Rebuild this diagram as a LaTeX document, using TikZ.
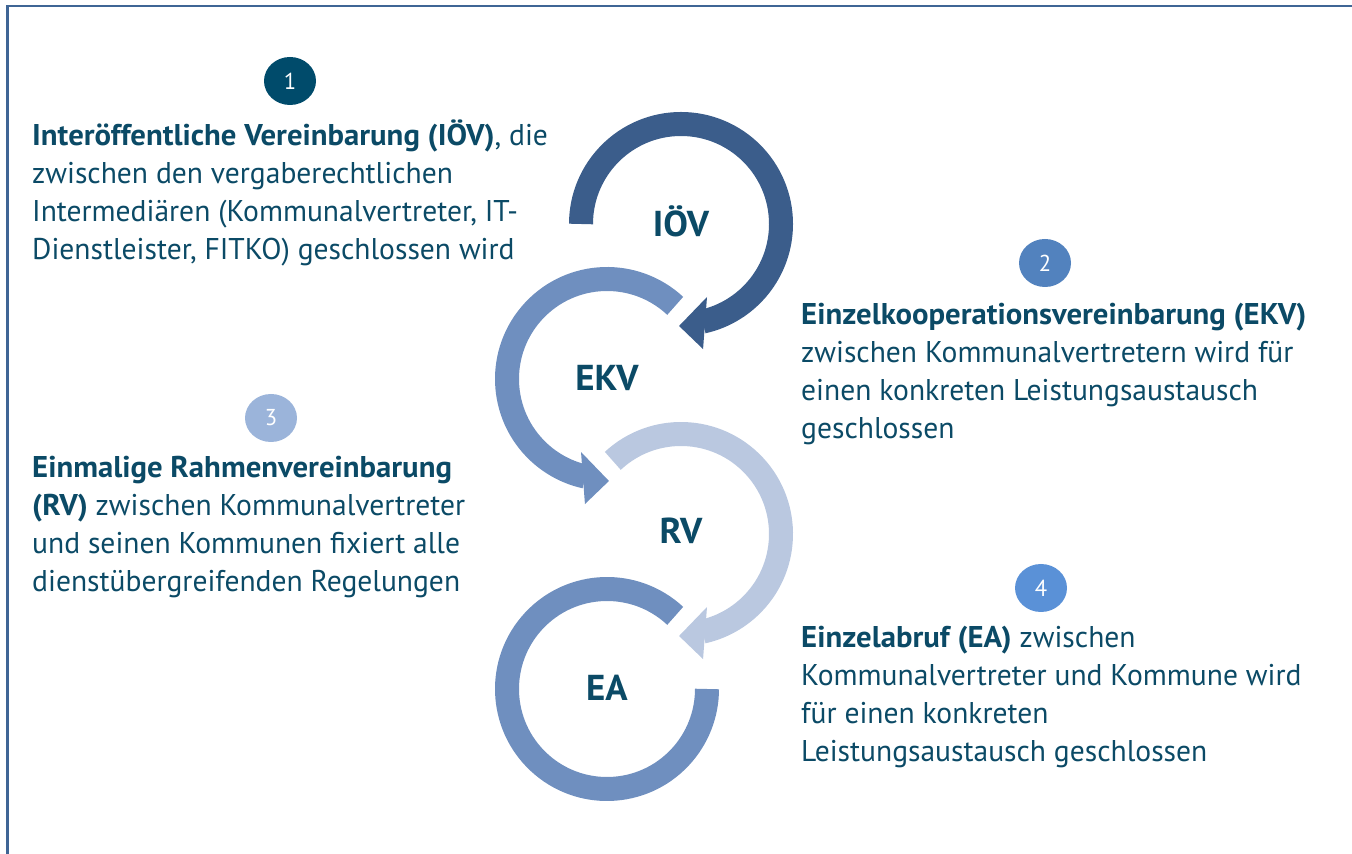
\documentclass[tikz,border=0pt]{standalone}
\usepackage{fontspec}
\setmainfont{PT Sans}[FakeStretch=0.985, BoldFeatures={FakeStretch=1.025}]
\usetikzlibrary{shapes.geometric}
\definecolor{txtc}{HTML}{0B4A66}
\definecolor{cdark}{HTML}{3B5D8B}
\definecolor{cmid}{HTML}{6F8FBF}
\definecolor{clight}{HTML}{BAC8E0}
\definecolor{framec}{HTML}{3F6595}
\definecolor{bone}{HTML}{004B6B}
\definecolor{btwo}{HTML}{5282BE}
\definecolor{bthree}{HTML}{9BB4DA}
\definecolor{bfour}{HTML}{5A91D7}
\tikzset{
  blocktext/.style={anchor=west, align=left, inner sep=0pt, text=txtc, font=\fontsize{30}{38}\selectfont},
  cyclelabel/.style={text=txtc, inner sep=0pt, font=\fontsize{36}{40}\selectfont\bfseries},
  badge/.style={ellipse, minimum width=52pt, minimum height=48pt, inner sep=0pt, text=white, font=\fontsize{23}{25}\selectfont},
  ring/.style={line width=24pt},
}
\begin{document}
\begin{tikzpicture}[x=1pt,y=1pt]
\useasboundingbox (0,0) rectangle (1352,854);
\clip (0,0) rectangle (1352,854);
\draw[framec, line width=2.5pt] (7.5,-20) -- (7.5,848) -- (1380,848);

% IOEV ring
\begin{scope}[shift={(681,630)}]
  \draw[ring, cdark] (180:100) arc[start angle=180, end angle=-77.5, radius=100];
  \fill[cdark] (-70.4:77.5) -- (-91.1:102) -- (-80:127) -- cycle;
\end{scope}
% EKV ring
\begin{scope}[shift={(607,475)}]
  \draw[ring, cmid] (47:100) arc[start angle=47, end angle=257.5, radius=100];
  \fill[cmid] (250.4:77.5) -- (271.1:102) -- (260:127) -- cycle;
\end{scope}
% RV ring
\begin{scope}[shift={(681,320)}]
  \draw[ring, clight] (133:100) arc[start angle=133, end angle=-77.5, radius=100];
  \fill[clight] (-70.4:77.5) -- (-91.1:102) -- (-80:127) -- cycle;
\end{scope}
% EA ring
\begin{scope}[shift={(607,165)}]
  \draw[ring, cmid] (47:100) arc[start angle=47, end angle=360, radius=100];
\end{scope}

\node[cyclelabel] (iov) at (681,633) {IÖV};
\node[cyclelabel] (ekv) at (607,476) {EKV};
\node[cyclelabel] (rv) at (681,323) {RV};
\node[cyclelabel] (ea) at (607,166) {EA};

\node[badge, fill=bone] (b1) at (290,773) {1};
\node[badge, fill=btwo] (b2) at (1045,591) {2};
\node[badge, fill=bthree] (b3) at (271,436) {3};
\node[badge, fill=bfour] (b4) at (1041,266) {4};

\node[blocktext] (t1) at (32,661) {\textbf{Interöffentliche Vereinbarung (IÖV)}, die\\zwischen den vergaberechtlichen\\Intermediären (Kommunalvertreter, IT-\\Dienstleister, FITKO) geschlossen wird};
\node[blocktext] (t2) at (801,479.5) {\textbf{Einzelkooperationsvereinbarung (EKV)}\\zwischen Kommunalvertretern wird für\\einen konkreten Leistungsaustausch\\geschlossen};
\node[blocktext] (t3) at (32,326.5) {\textbf{Einmalige Rahmenvereinbarung}\\\textbf{(RV)} zwischen Kommunalvertreter\\und seinen Kommunen fixiert alle\\dienstübergreifenden Regelungen};
\node[blocktext] (t4) at (801,157) {\textbf{Einzelabruf (EA)} zwischen\\Kommunalvertreter und Kommune wird\\für einen konkreten\\Leistungsaustausch geschlossen};
\end{tikzpicture}
\end{document}
